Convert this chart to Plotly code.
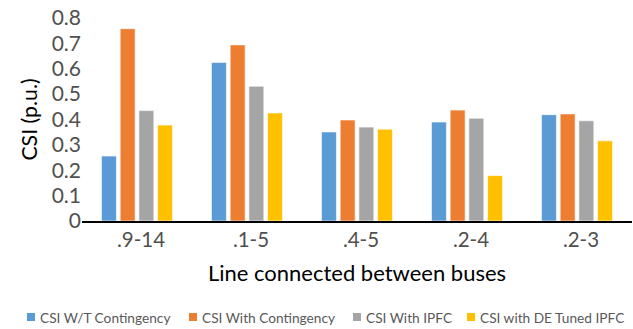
import plotly.graph_objects as go

# Contingency severity index per line outage
lines = [".9-14", ".1-5", ".4-5", ".2-4", ".2-3"]
csi_wt_contingency = [0.256, 0.625, 0.351, 0.390, 0.419]
csi_with_contingency = [0.758, 0.694, 0.398, 0.437, 0.422]
csi_with_ipfc = [0.435, 0.531, 0.370, 0.405, 0.395]
csi_de_tuned_ipfc = [0.378, 0.426, 0.362, 0.179, 0.316]

series_names = ["CSI W/T Contingency", "CSI With Contingency",
                "CSI With IPFC", "CSI with DE Tuned IPFC"]
series_values = [csi_wt_contingency, csi_with_contingency,
                 csi_with_ipfc, csi_de_tuned_ipfc]
series_colors = ["#5B9BD5", "#ED7D31", "#A5A5A5", "#FFC000"]

W, H = 633, 329
L, R, T, B = 82, 1, 18, 108
PW, PH = W - L - R, H - T - B


def px_x(px):
    return (px - L) / PW


def px_y(py):
    return (H - B - py) / PH


fig = go.Figure()
for name, vals, color in zip(series_names, series_values, series_colors):
    fig.add_trace(go.Bar(
        x=lines, y=vals, name=name, showlegend=False,
        marker=dict(color=color, line=dict(color="rgba(255,255,255,0.6)", width=1)),
    ))

# Legend row along the bottom: small square swatch followed by the label
legend_swatch_x = [27, 189, 353, 467]
legend_y = 317
for name, color, sx in zip(series_names, series_colors, legend_swatch_x):
    fig.add_shape(type="rect", xref="paper", yref="paper",
                  x0=px_x(sx), x1=px_x(sx + 8),
                  y0=px_y(legend_y + 4), y1=px_y(legend_y - 4),
                  fillcolor=color, line=dict(width=0))
    fig.add_annotation(text=name, xref="paper", yref="paper",
                       x=px_x(sx + 11), y=px_y(legend_y),
                       xanchor="left", yanchor="middle", showarrow=False,
                       font=dict(size=13.7, color="#595959"))

font_family = "Lato, 'Open Sans', sans-serif"
fig.update_layout(
    width=W, height=H,
    margin=dict(l=L, r=R, t=T, b=B, autoexpand=False),
    paper_bgcolor="white", plot_bgcolor="white",
    barmode="group", bargap=0.32, bargroupgap=0.2,
    font=dict(family=font_family, color="#595959"),
    showlegend=False,
    xaxis=dict(
        showline=True, linecolor="black", linewidth=1.5,
        ticks="", ticklabelshift=4, tickfont=dict(size=20.5, color="#505050"),
        title=dict(text="Line connected between buses",
                   font=dict(size=22, color="black"), standoff=15),
    ),
    yaxis=dict(
        range=[0, 0.8], dtick=0.1, tickformat=".1~f",
        showgrid=False, zeroline=False, showline=False,
        ticks="", tickfont=dict(size=21, color="#505050"),
        title=dict(text="CSI (p.u.)", font=dict(size=21.3, color="black"), standoff=8),
    ),
)

fig.write_html("out.html")
